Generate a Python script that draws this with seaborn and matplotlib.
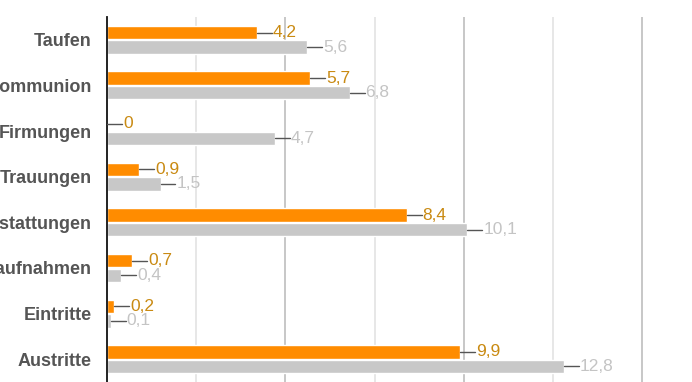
import numpy as np
import pandas as pd
import seaborn as sns
import matplotlib.pyplot as plt

categories = ['Taufen', 'Erstkommunion', 'Firmungen', 'Trauungen',
              'Bestattungen', 'Wiederaufnahmen', 'Eintritte', 'Austritte']
series = ['2023', '2022']
values_a = [4.2, 5.7, 0.0, 0.9, 8.4, 0.7, 0.2, 9.9]
values_b = [5.6, 6.8, 4.7, 1.5, 10.1, 0.4, 0.1, 12.8]
bar_colors = ['#FF8C00', '#C8C8C8']
text_colors = ['#C98A12', '#C4C4C4']

df = pd.DataFrame({
    'kategorie': categories * 2,
    'reihe': [series[0]] * len(categories) + [series[1]] * len(categories),
    'wert': values_a + values_b,
})

sns.set_style('white')
plt.rcParams['font.family'] = ['Liberation Sans', 'DejaVu Sans']

fig = plt.figure(figsize=(6.92, 3.82), dpi=100)
ax = fig.add_axes([107 / 692, 0, 1 - 107 / 692, 365 / 382])

sns.barplot(data=df, y='kategorie', x='wert', hue='reihe', order=categories,
            hue_order=series, palette=bar_colors, orient='h', width=0.64,
            gap=0.08, legend=False, ax=ax, saturation=1)

ax.set_xlim(0, 16.4)
ax.set_ylim(7.5, -0.5)

for x in [2.5, 5, 7.5, 10, 12.5, 15]:
    c = '#BDBDBD' if x % 5 == 0 else '#E3E3E3'
    ax.axvline(x, color=c, lw=1.2, zorder=0)

# leader lines and value labels
for cont, col in zip(ax.containers, text_colors):
    for bar in cont:
        w = bar.get_width()
        yc = bar.get_y() + bar.get_height() / 2
        ax.plot([w, w + 0.42], [yc, yc], color='#555555', lw=1, zorder=3)
        ax.text(w + 0.45, yc, f'{w:.1f}'.replace('.', ',').replace('0,0', '0'),
                color=col, fontsize=12.5, va='center', ha='left', zorder=4)

ax.set_xlabel('')
ax.set_ylabel('')
ax.set_xticks([])
ax.tick_params(axis='y', length=0, pad=11)
for lab in ax.get_yticklabels():
    lab.set_fontweight('bold')
    lab.set_color('#555555')
    lab.set_fontsize(13)

for s in ['top', 'right', 'bottom']:
    ax.spines[s].set_visible(False)
ax.spines['left'].set_color('#111111')
ax.spines['left'].set_linewidth(1.3)

fig.savefig('out.png', dpi=100)
